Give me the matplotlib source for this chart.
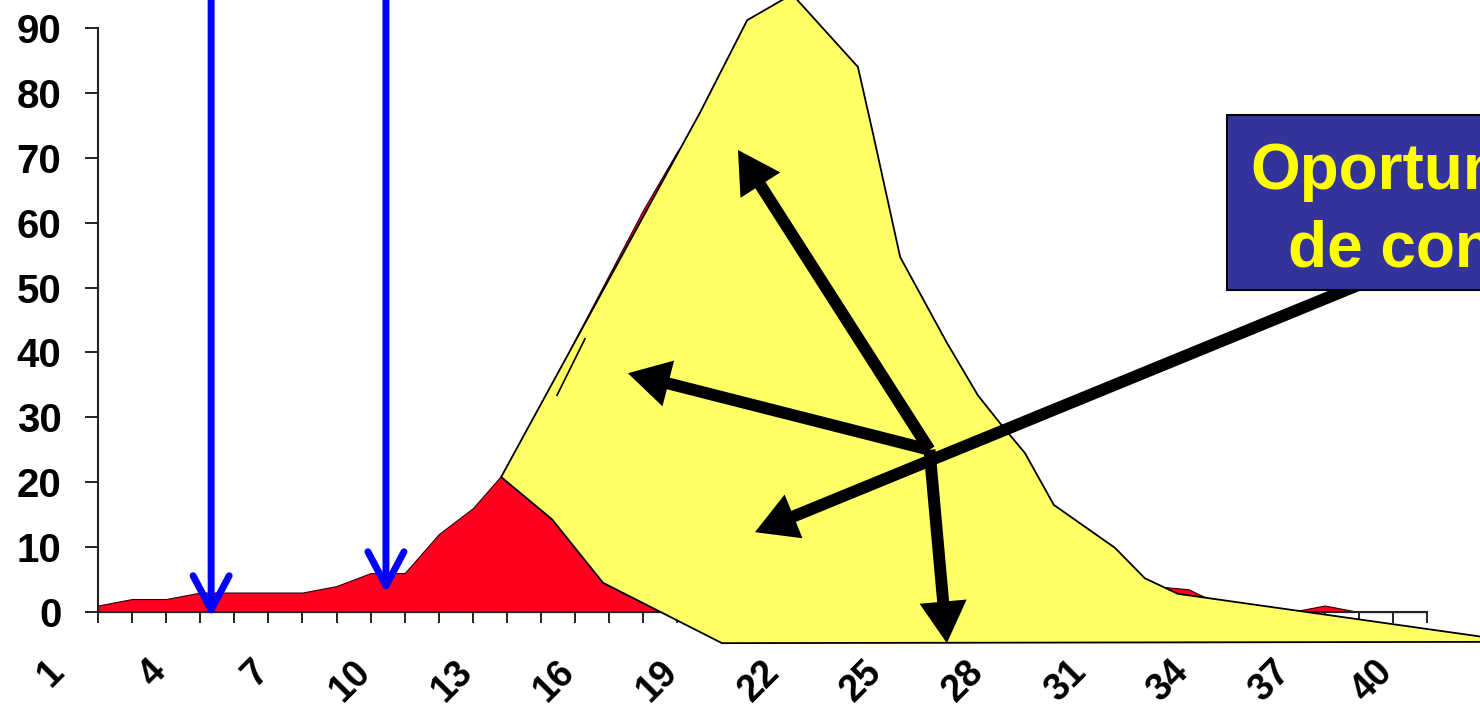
import numpy as np
import matplotlib
matplotlib.use('Agg')
import matplotlib.pyplot as plt
from matplotlib.patches import FancyArrowPatch, Rectangle
from matplotlib.transforms import ScaledTranslation

plt.rcParams['font.family'] = ['Liberation Sans', 'DejaVu Sans']
plt.rcParams['font.weight'] = 'bold'

# --- DATA ---
days = np.arange(1, 41)
cases = [1, 2, 2, 3, 3, 3, 3, 4, 6, 6,
         12, 16, 22, 31, 42, 52, 62, 71, 78, 89,
         92, 89, 82, 60, 45, 38, 30, 23, 15, 11,
         7, 4, 3.5, 1, 0, 0, 1, 0, 0, 0]
y_ticks = list(range(0, 100, 10))
x_labels = [str(d) if (d - 1) % 3 == 0 else '' for d in days]

# yellow "control" shape laid over the curve (day, cases)
control_x = [12.83, 18.67, 20.05, 21.37, 23.30, 23.74, 24.54, 25.91, 26.82, 27.47,
             28.20, 29.05, 30.84, 31.72, 32.69, 42.0, 42.0, 19.31, 15.82, 14.32]
control_y = [20.8, 77.0, 91.2, 95.2, 84.0, 73.8, 54.7, 41.5, 33.4, 29.1,
             24.5, 16.5, 9.9, 5.2, 2.8, -4.1, -4.6, -4.8, 4.5, 14.3]

# intervention times (blue) and arrows from the box (black)
blue_days = [4.32, 9.45]
blue_tips = [-0.8, 2.9]
hub = (25.4, 25.0)
black_tips = [(19.78, 71.2), (16.55, 36.8), (25.91, -4.8)]
long_arrow = [(38.5, 51.5), (20.28, 12.3)]

box_text = ['Oportunidad', 'de control']

# --- PLOT ---
fig = plt.figure(figsize=(14.8, 7.07), dpi=100)
ax = fig.add_axes([98 / 1480, 1 - 612 / 707, 1329 / 1480, 584 / 707])

ax.fill_between(days, cases, 0, facecolor='#FF0021', edgecolor='#300000',
                linewidth=0.8, zorder=1, clip_on=False)

ax.fill(control_x, control_y, facecolor='#FFFF66', edgecolor='black',
        linewidth=1.3, zorder=3, clip_on=False)
ax.plot([14.47, 15.29], [33.4, 42.1], color='black', lw=1.2, zorder=3.1)

ax.set_xlim(1, 40)
ax.set_ylim(0, 90)
ax.set_yticks(y_ticks)
ax.set_xticks(days)
ax.set_xticklabels(x_labels, rotation=45, ha='right', va='top')

for s in ['top', 'right']:
    ax.spines[s].set_visible(False)
for s in ['left', 'bottom']:
    ax.spines[s].set_linewidth(1.5)
    ax.spines[s].set_color('#222222')

ax.tick_params(axis='y', direction='out', length=9.4, width=1.4,
               pad=17, labelsize=29, color='#222222')
ax.tick_params(axis='x', direction='out', length=8, width=1.4,
               pad=22, labelsize=27, color='#222222')
shift = ScaledTranslation(-0.27, 0, fig.dpi_scale_trans)
for lab in ax.get_xticklabels():
    lab.set_transform(lab.get_transform() + shift)

# blue arrows
for d, tip in zip(blue_days, blue_tips):
    ann = ax.annotate('', xy=(d, tip), xytext=(d, 97),
                      arrowprops=dict(arrowstyle='->,head_length=2.45,head_width=1.3',
                                      lw=5, color='#0000FF', shrinkA=0, shrinkB=0,
                                      mutation_scale=10),
                      annotation_clip=False, zorder=4)
    ann.arrow_patch.set_clip_on(False)

# black arrows
style = 'simple,head_length=3.0,head_width=3.4,tail_width=0.86'
for tip in black_tips:
    ax.add_patch(FancyArrowPatch(hub, tip, arrowstyle=style, mutation_scale=10,
                                 color='black', lw=0, shrinkA=0, shrinkB=0,
                                 zorder=5, clip_on=False))
ax.add_patch(FancyArrowPatch(long_arrow[0], long_arrow[1], arrowstyle=style,
                             mutation_scale=10, color='black', lw=0,
                             shrinkA=0, shrinkB=0, zorder=5, clip_on=False))

# text box
ax.add_patch(Rectangle((34.13, 49.6), 14, 27.0, facecolor='#333399',
                       edgecolor='black', lw=1.5, zorder=6, clip_on=False))
ax.text(40.44, 65.2, box_text[0], ha='center', va='baseline', fontsize=46,
        color='#FFFF00', fontweight='bold', zorder=7, clip_on=False)
ax.text(40.44, 53.3, box_text[1], ha='center', va='baseline', fontsize=46,
        color='#FFFF00', fontweight='bold', zorder=7, clip_on=False)

fig.savefig('out.png', dpi=100)
